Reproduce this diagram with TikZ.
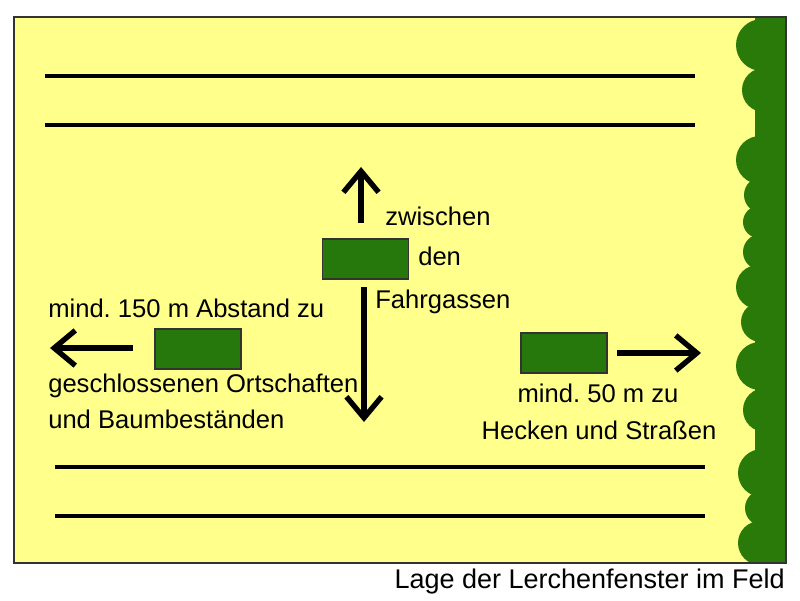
\documentclass[tikz,border=0pt]{standalone}
\usepackage{fontspec}
\setmainfont{Liberation Sans}
\usetikzlibrary{arrows.meta}
\definecolor{feldgelb}{RGB}{255,255,140}
\definecolor{heckengruen}{RGB}{42,122,10}
\definecolor{fenstergruen}{RGB}{38,120,12}
\frenchspacing
\begin{document}
\begin{tikzpicture}[x=0.025cm,y=-0.025cm,
    >={Straight Barb[length=15pt,width=25pt]},
    fenster/.style={draw=black!80,fill=fenstergruen,line width=0.8pt,minimum width=2.15cm,minimum height=1cm,inner sep=0pt},
    txt/.style={anchor=base west,inner sep=0pt,font=\fontsize{18.2}{22}\selectfont},
    pfeil/.style={->,line width=3.8pt},
    spur/.style={line width=2.6pt}]
    \useasboundingbox[fill=white](0,0)rectangle(800,600);

    % Feld
    \fill[feldgelb](14,17)rectangle(786,563);

    % Hecke
    \begin{scope}
        \clip(14,17)rectangle(786,563);
        \fill[heckengruen](755,17)rectangle(786,563);
        \foreach \y/\l/\r in {45/736/26,90/742/22,160/736/24,195/744/18,222/743/16,252/743/18,287/736/22,322/741/20,366/736/24,410/743/22,473/738/24,508/745/18,543/738/22}
            \fill[heckengruen](\l+\r,\y)circle(\r);
    \end{scope}
    \draw[black!80,line width=0.8pt](14,17)rectangle(786,563);

    % Fahrgassen
    \draw[spur](45,76)--(695,76);
    \draw[spur](45,125)--(695,125);
    \draw[spur](55,467)--(705,467);
    \draw[spur](55,516)--(705,516);

    % Lerchenfenster
    \node[fenster](fmitte)at(365.5,259){};
    \node[fenster](flinks)at(198,349){};
    \node[fenster](frechts)at(564,353){};

    \coordinate(obenA)at(361,223);
    \coordinate(obenB)at(361,167);
    \coordinate(untenA)at(364,287);
    \coordinate(untenB)at(364,422);
    \coordinate(linksA)at(133,348);
    \coordinate(linksB)at(50,348);
    \coordinate(rechtsA)at(617,353);
    \coordinate(rechtsB)at(701,353);

    \draw[pfeil](obenA)--(obenB);
    \draw[pfeil](untenA)--(untenB);
    \draw[pfeil](linksA)--(linksB);
    \draw[pfeil](rechtsA)--(rechtsB);

    \node[txt](zwischen)at(385,225){zwischen};
    \node[txt](den)at(418,265){den};
    \node[txt](fahrgassen)at(375,308){Fahrgassen};
    \node[txt](abstand)at(48,317){mind. 150 m Abstand zu};
    \node[txt](ortschaften)at(48,392){geschlossenen Ortschaften};
    \node[txt](baum)at(48,428){und Baumbeständen};
    \node[txt,anchor=base](hecken1)at(598,402){mind. 50 m zu};
    \node[txt,anchor=base](hecken2)at(599,439){Hecken und Straßen};
    \node[txt,anchor=base east,font=\fontsize{19.2}{23}\selectfont](titel)at(785,588){Lage der Lerchenfenster im Feld};
\end{tikzpicture}
\end{document}
